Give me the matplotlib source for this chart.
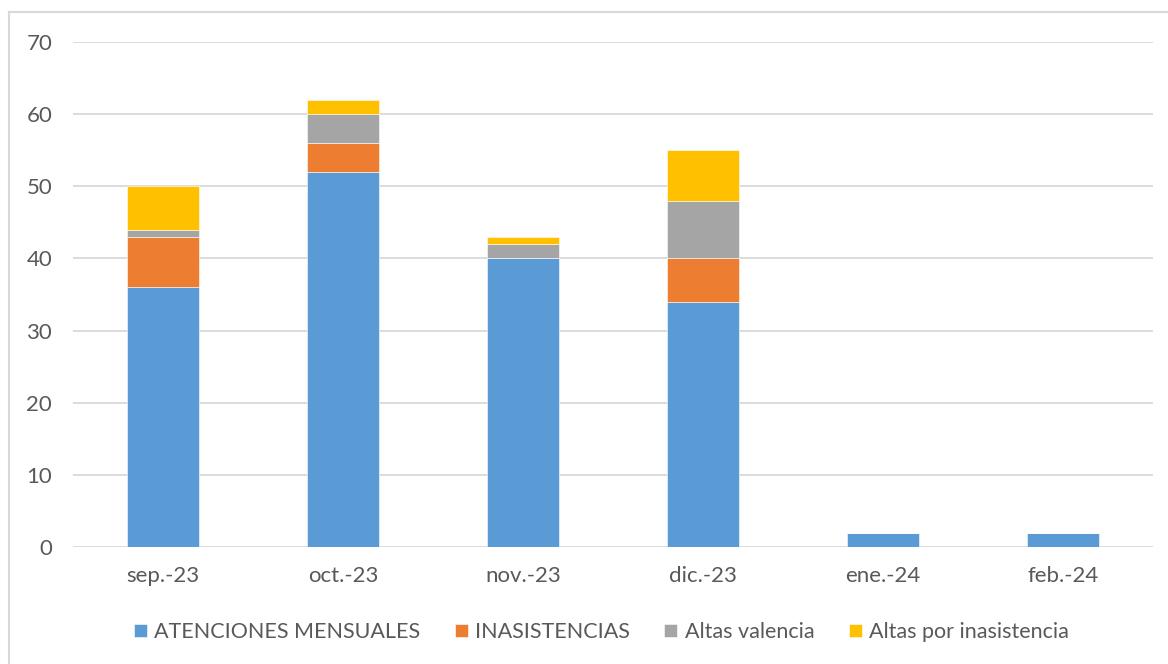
import matplotlib
matplotlib.use('Agg')
import matplotlib.pyplot as plt
import numpy as np

plt.rcParams['font.family'] = ['Lato', 'DejaVu Sans']

# Datos por mes
meses = ['sep.-23', 'oct.-23', 'nov.-23', 'dic.-23', 'ene.-24', 'feb.-24']
atenciones = [36, 52, 40, 34, 2, 2]
inasistencias = [7, 4, 0, 6, 0, 0]
altas_valencia = [1, 4, 2, 8, 0, 0]
altas_inasistencia = [6, 2, 1, 7, 0, 0]

series = [
    ('ATENCIONES MENSUALES', atenciones, '#5B9BD5'),
    ('INASISTENCIAS', inasistencias, '#ED7D31'),
    ('Altas valencia', altas_valencia, '#A5A5A5'),
    ('Altas por inasistencia', altas_inasistencia, '#FFC000'),
]

fig = plt.figure(figsize=(11.68, 6.64), dpi=100)
ax = fig.add_axes([73/1168, 1 - 547/664, 1080/1168, 505/664])

x = np.arange(len(meses))
bottom = np.zeros(len(meses))
for label, vals, color in series:
    vals = np.array(vals, dtype=float)
    ax.bar(x, vals, 0.4, bottom=bottom, color=color, label=label,
           edgecolor='white', linewidth=0.4, zorder=3)
    bottom += vals

ax.set_xlim(-0.5, len(meses) - 0.5)
ax.set_ylim(0, 70)
ax.set_yticks(range(0, 71, 10))
ax.set_xticks(x)
ax.set_xticklabels(meses)
ax.grid(axis='y', color='#D9D9D9', linewidth=1.3, zorder=0)
for s in ax.spines.values():
    s.set_visible(False)
ax.tick_params(axis='both', length=0, labelsize=16, colors='#595959')
ax.tick_params(axis='y', pad=15)
ax.tick_params(axis='x', pad=14)

leg = fig.legend(loc='center', bbox_to_anchor=(0.515, 1 - 632/664), ncol=4,
                 frameon=False, fontsize=15.5, handlelength=0.6, handleheight=0.6,
                 columnspacing=1.6, handletextpad=0.35)
for t in leg.get_texts():
    t.set_color('#595959')

# borde del área del gráfico
fig.add_artist(plt.Line2D([9/1168, 9/1168], [0, 1 - 12/664], color='#D9D9D9', lw=1.5))
fig.add_artist(plt.Line2D([9/1168, 1], [1 - 12/664, 1 - 12/664], color='#D9D9D9', lw=1.5))

fig.savefig('out.png', dpi=100)
